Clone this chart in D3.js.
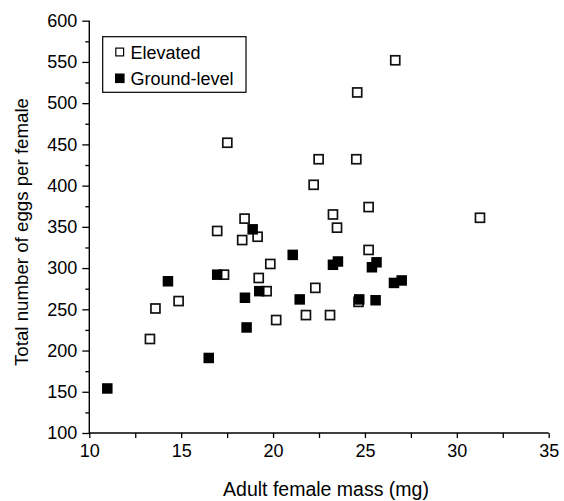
<!DOCTYPE html>
<html>
<head>
<meta charset="utf-8">
<script src="https://cdn.jsdelivr.net/npm/d3@7/dist/d3.min.js"></script>
<style>
  html, body { margin: 0; padding: 0; background: #fff; }
  svg { display: block; font-family: Arial, "Liberation Sans", Helvetica, sans-serif; }
</style>
</head>
<body>
<svg id="chart" width="564" height="501"></svg>
<script>
// Adult female mass (mg) and total eggs per female, by oviposition site
const elevatedMass = [13.3, 13.6, 14.86, 16.96, 17.33, 17.51, 18.32, 18.45, 19.16, 19.22, 19.65, 19.85, 20.17, 21.79, 22.21, 22.3, 22.48, 23.1, 23.26, 23.48, 24.53, 24.58, 24.65, 25.2, 25.2, 26.65, 31.26];
const elevatedEggs = [214, 251, 260, 345, 292, 452, 334, 360, 338, 288, 272, 305, 237, 243, 401, 276, 432, 243, 365, 349, 432, 513, 259, 374, 322, 552, 361];

const groundMass = [10.98, 14.28, 16.5, 16.96, 18.47, 18.56, 18.89, 19.25, 21.07, 21.45, 23.26, 23.53, 24.69, 25.38, 25.63, 25.58, 26.58, 27.0];
const groundEggs = [154, 284, 191, 292, 264, 228, 347, 272, 316, 262, 304, 308, 262, 301, 307, 261, 282, 285];

const seriesNames = ["Elevated", "Ground-level"];
const xTicks = [10, 15, 20, 25, 30, 35];
const yTicks = [100, 150, 200, 250, 300, 350, 400, 450, 500, 550, 600];
const xMinorTicks = [12.5, 17.5, 22.5, 27.5, 32.5];
const yMinorTicks = [125, 175, 225, 275, 325, 375, 425, 475, 525, 575];

const svg = d3.select("#chart");
const plotLeft = 89.3, plotRight = 548.7, plotTop = 20.7, plotBottom = 433;

const x = d3.scaleLinear().domain([10, 35]).range([plotLeft, plotRight]);
const y = d3.scaleLinear().domain([100, 600]).range([plotBottom, plotTop]);

// Axes
const xAxis = d3.axisBottom(x).tickValues(xTicks).tickSize(5).tickPadding(6).tickFormat(d3.format("d"));
const yAxis = d3.axisLeft(y).tickValues(yTicks).tickSize(7).tickPadding(5).tickFormat(d3.format("d"));

const gx = svg.append("g").attr("transform", `translate(0,${plotBottom})`).call(xAxis);
const gy = svg.append("g").attr("transform", `translate(${plotLeft},0)`).call(yAxis);

// Minor ticks
svg.append("g").attr("transform", `translate(0,${plotBottom})`)
  .call(d3.axisBottom(x).tickValues(xMinorTicks).tickSize(5).tickFormat(""))
  .select(".domain").remove();
svg.append("g").attr("transform", `translate(${plotLeft},0)`)
  .call(d3.axisLeft(y).tickValues(yMinorTicks).tickSize(4).tickFormat(""))
  .select(".domain").remove();

svg.selectAll(".domain").attr("stroke", "#000").attr("stroke-width", 1.4);
svg.selectAll(".tick line").attr("stroke", "#000").attr("stroke-width", 1.3);
gx.selectAll(".domain").attr("d", `M${plotLeft},0H${plotRight}`);
gy.selectAll(".domain").attr("d", `M0,${plotBottom}V${plotTop}`);
gx.selectAll(".tick text").attr("font-size", 18).attr("fill", "#000").attr("font-family", "Arial, 'Liberation Sans', sans-serif");
gy.selectAll(".tick text").attr("font-size", 18).attr("fill", "#000").attr("font-family", "Arial, 'Liberation Sans', sans-serif");

// Axis titles
svg.append("text")
  .attr("x", 326).attr("y", 496)
  .attr("text-anchor", "middle")
  .attr("font-size", 19.5)
  .text("Adult female mass (mg)");

svg.append("text")
  .attr("transform", "translate(27.5,232) rotate(-90)")
  .attr("text-anchor", "middle")
  .attr("font-size", 18.7)
  .text("Total number of eggs per female");

// Points
const elevated = elevatedMass.map((m, i) => ({ m, e: elevatedEggs[i] }));
const ground = groundMass.map((m, i) => ({ m, e: groundEggs[i] }));

const openSize = 9, filledSize = 10.5;

svg.append("g").selectAll("rect").data(elevated).join("rect")
  .attr("x", d => x(d.m) - openSize / 2)
  .attr("y", d => y(d.e) - openSize / 2)
  .attr("width", openSize).attr("height", openSize)
  .attr("fill", "#fff").attr("stroke", "#111").attr("stroke-width", 1.7);

svg.append("g").selectAll("rect").data(ground).join("rect")
  .attr("x", d => x(d.m) - filledSize / 2)
  .attr("y", d => y(d.e) - filledSize / 2)
  .attr("width", filledSize).attr("height", filledSize)
  .attr("fill", "#000");

// Legend
const legend = svg.append("g");
legend.append("rect")
  .attr("x", 102.7).attr("y", 36.7).attr("width", 143.3).attr("height", 55.6)
  .attr("fill", "#fff").attr("stroke", "#000").attr("stroke-width", 1.2);
const legendRows = [
  { name: seriesNames[0], cy: 52, filled: false },
  { name: seriesNames[1], cy: 78.3, filled: true }
];
legendRows.forEach(r => {
  if (r.filled) {
    legend.append("rect").attr("x", 115).attr("y", r.cy - 4.8).attr("width", 9.6).attr("height", 9.6).attr("fill", "#000");
  } else {
    legend.append("rect").attr("x", 115.8).attr("y", r.cy - 3.9).attr("width", 7.8).attr("height", 7.8)
      .attr("fill", "#fff").attr("stroke", "#000").attr("stroke-width", 1.2);
  }
  legend.append("text").attr("x", 130.5).attr("y", r.cy + 6.5).attr("font-size", 18).text(r.name);
});
</script>
</body>
</html>
